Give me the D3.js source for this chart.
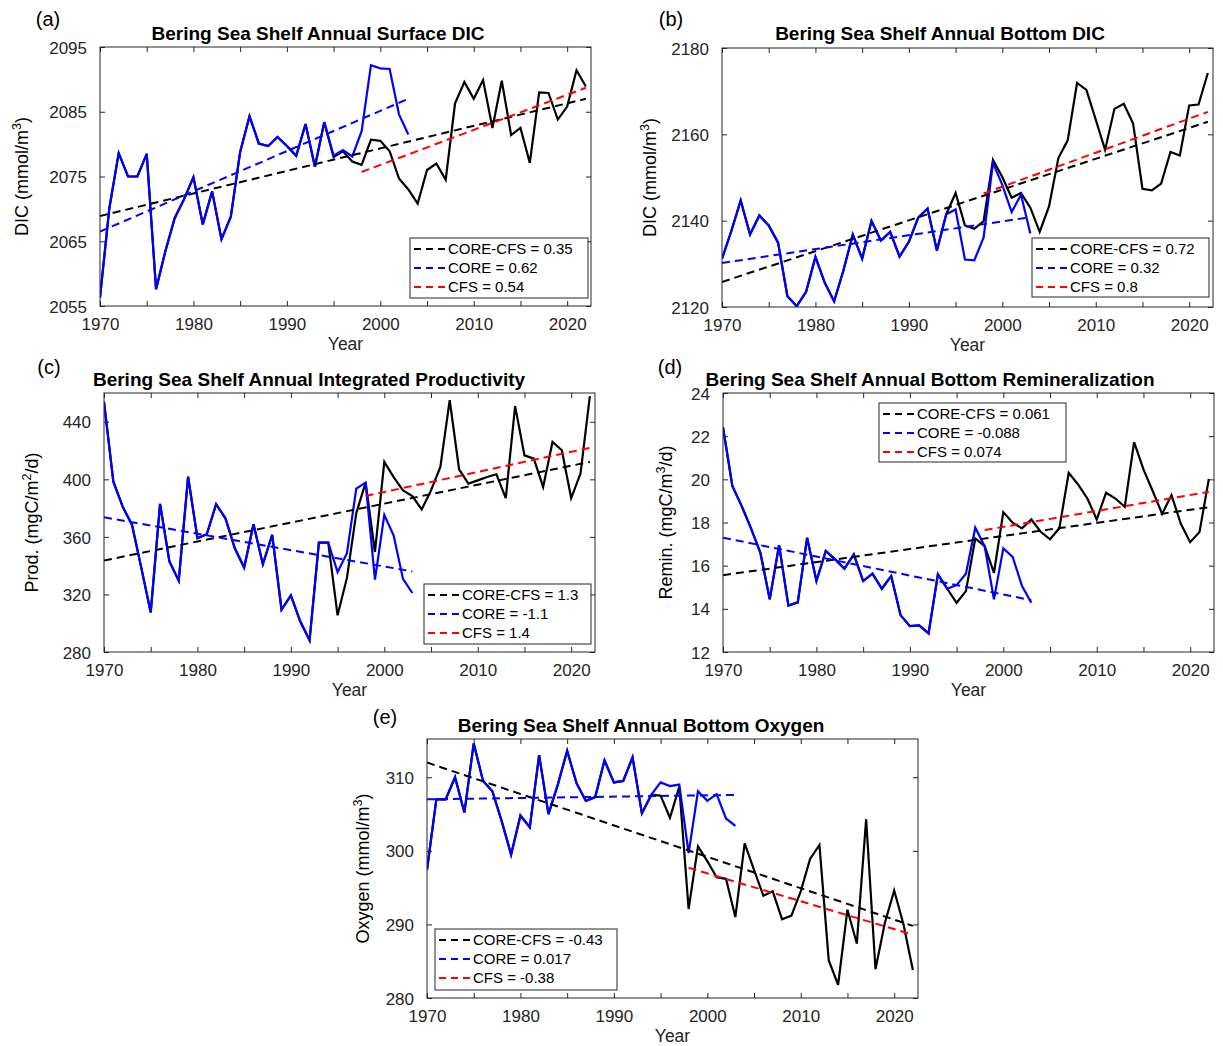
<!DOCTYPE html>
<html>
<head>
<meta charset="utf-8">
<script src="https://cdn.jsdelivr.net/npm/d3@7"></script>
<style>
  html, body { margin: 0; padding: 0; background: #fff; }
  svg { display: block; font-family: "Liberation Sans", Arial, Helvetica, sans-serif; }
</style>
</head>
<body>
<svg id="chart" width="1223" height="1046"></svg>
<script>
// ---------------- DATA ----------------
const coreYears = d3.range(1970, 2004);      // CORE: 1970-2003
const coreCfsYears = d3.range(1970, 2023);   // CORE-CFS: 1970-2022
const xTicks = [1970, 1975, 1980, 1985, 1990, 1995, 2000, 2005, 2010, 2015, 2020];
const xTickLabels = ["1970", "", "1980", "", "1990", "", "2000", "", "2010", "", "2020"];
const seriesNames = ["CORE-CFS", "CORE", "CFS"];

// (a) Surface DIC
const aCore = [2056.3, 2070.1, 2078.6, 2075.0, 2075.0, 2078.5, 2057.6, 2063.5, 2068.6, 2071.5,
  2074.9, 2067.6, 2072.7, 2065.3, 2068.8, 2078.8, 2084.3, 2080.1, 2079.7, 2081.1,
  2079.7, 2078.2, 2083.1, 2076.5, 2083.4, 2078.2, 2079.1, 2078.1, 2082.0, 2092.2,
  2091.7, 2091.6, 2084.6, 2081.5];
const aCoreCfs = [2056.3, 2070.1, 2078.6, 2075.0, 2075.0, 2078.5, 2057.6, 2063.5, 2068.6, 2071.5,
  2074.9, 2067.6, 2072.7, 2065.3, 2068.8, 2078.8, 2084.3, 2080.1, 2079.7, 2081.1,
  2079.7, 2078.2, 2083.1, 2076.5, 2083.4,
  2078.0, 2078.9, 2077.3, 2076.8, 2080.7, 2080.5, 2078.9, 2074.7, 2073.0, 2070.8,
  2076.0, 2077.0, 2074.5, 2086.3, 2089.6, 2087.0, 2089.9, 2082.5, 2089.8, 2081.4,
  2082.5, 2077.1, 2088.0, 2087.9, 2083.8, 2085.8, 2091.4, 2088.9];
const aTrendCoreCfs = [2068.9, 2087.0];   // 1970 -> 2022
const aTrendCore = [2066.5, 2087.0];      // 1970 -> 2003
const aTrendCfs = [2075.7, 2088.7];       // 1998 -> 2022
const aSlopes = ["0.35", "0.62", "0.54"];
const aYTicks = [2055, 2065, 2075, 2085, 2095];

// (b) Bottom DIC
const bCore = [2131.2, 2137.6, 2144.7, 2136.8, 2141.2, 2138.9, 2134.9, 2122.5, 2120.2, 2123.5,
  2131.6, 2125.6, 2121.3, 2128.5, 2136.8, 2131.2, 2139.9, 2135.4, 2137.4, 2131.7,
  2135.1, 2140.7, 2142.8, 2133.1, 2141.5, 2142.6, 2131.0, 2130.8, 2136.1, 2153.4,
  2148.3, 2142.0, 2146.0, 2137.0];
const bCoreCfs = [2131.2, 2137.6, 2144.7, 2136.8, 2141.2, 2138.9, 2134.9, 2122.5, 2120.2, 2123.5,
  2131.6, 2125.6, 2121.3, 2128.5, 2136.8, 2131.2, 2139.9, 2135.4, 2137.4, 2131.7,
  2135.1, 2140.7, 2142.8, 2133.1, 2141.5,
  2146.4, 2138.9, 2138.1, 2139.9, 2154.1, 2150.1, 2145.3, 2146.4, 2143.0, 2137.4,
  2143.3, 2154.5, 2158.6, 2171.9, 2170.3, 2163.4, 2156.4, 2165.9, 2167.1, 2162.5,
  2147.4, 2147.0, 2148.6, 2155.9, 2155.1, 2166.7, 2166.9, 2174.2];
const bTrendCoreCfs = [2125.8, 2162.9];
const bTrendCore = [2130.2, 2140.8];
const bTrendCfs = [2146.3, 2165.2];
const bSlopes = ["0.72", "0.32", "0.8"];
const bYTicks = [2120, 2140, 2160, 2180];

// (c) Integrated Productivity
const cCore = [453.9, 398.4, 381.0, 368.3, 338.3, 307.5, 382.9, 342.9, 329.5, 401.8,
  359.1, 361.8, 382.7, 372.9, 352.1, 338.7, 368.8, 341.0, 361.4, 309.4,
  319.3, 301.3, 288.1, 356.0, 356.0, 335.5, 348.6, 393.5, 397.7, 330.3,
  375.3, 360.9, 330.8, 321.0];
const cCoreCfs = [453.9, 398.4, 381.0, 368.3, 338.3, 307.5, 382.9, 342.9, 329.5, 401.8,
  359.1, 361.8, 382.7, 372.9, 352.1, 338.7, 368.8, 341.0, 361.4, 309.4,
  319.3, 301.3, 288.1, 356.0, 356.0,
  305.5, 331.5, 376.5, 397.7, 349.5, 412.1, 401.6, 392.3, 388.4, 379.1,
  392.3, 408.6, 455.1, 407.0, 397.0, 399.3, 401.6, 403.5, 387.0, 450.9,
  416.7, 414.4, 394.7, 426.0, 420.2, 387.0, 404.0, 457.9];
const cTrendCoreCfs = [343.6, 412.1];
const cTrendCore = [373.6, 336.0];
const cTrendCfs = [388.4, 421.9];
const cSlopes = ["1.3", "-1.1", "1.4"];
const cYTicks = [280, 320, 360, 400, 440];

// (d) Bottom Remineralization
const dCore = [22.42, 19.69, 18.76, 17.73, 16.60, 14.44, 16.95, 14.15, 14.30, 17.29,
  15.29, 16.68, 16.29, 15.86, 16.52, 15.29, 15.63, 14.93, 15.52, 13.71,
  13.20, 13.23, 12.86, 15.60, 14.93, 15.10, 15.63, 17.76, 16.91, 14.44,
  16.80, 16.41, 15.06, 14.28];
const dCoreCfs = [22.42, 19.69, 18.76, 17.73, 16.60, 14.44, 16.95, 14.15, 14.30, 17.29,
  15.29, 16.68, 16.29, 15.86, 16.52, 15.29, 15.63, 14.93, 15.52, 13.71,
  13.20, 13.23, 12.86, 15.60, 14.93,
  14.28, 14.82, 17.26, 16.91, 15.67, 18.48, 17.99, 17.73, 18.14, 17.57,
  17.22, 17.73, 20.30, 19.76, 19.11, 18.14, 19.38, 19.11, 18.73, 21.72,
  20.46, 19.45, 18.40, 19.27, 17.94, 17.09, 17.56, 20.02];
const dTrendCoreCfs = [15.56, 18.71];
const dTrendCore = [17.3, 14.4];
const dTrendCfs = [17.65, 19.42];
const dSlopes = ["0.061", "-0.088", "0.074"];
const dYTicks = [12, 14, 16, 18, 20, 22, 24];

// (e) Bottom Oxygen
const eCore = [297.4, 307.0, 307.0, 310.0, 305.2, 314.6, 309.5, 308.1, 304.0, 299.5,
  304.8, 303.2, 313.0, 305.0, 309.0, 313.6, 309.2, 306.8, 307.3, 312.3,
  309.3, 309.5, 312.7, 305.1, 307.6, 309.3, 308.8, 309.0, 299.7, 308.1,
  306.8, 307.7, 304.4, 303.4];
const eCoreCfs = [297.4, 307.0, 307.0, 310.0, 305.2, 314.6, 309.5, 308.1, 304.0, 299.5,
  304.8, 303.2, 313.0, 305.0, 309.0, 313.6, 309.2, 306.8, 307.3, 312.3,
  309.3, 309.5, 312.7, 305.1, 307.6,
  307.5, 304.5, 308.7, 292.1, 300.6, 298.6, 296.4, 296.2, 291.0, 301.0,
  297.4, 293.9, 294.5, 290.7, 291.2, 294.5, 298.9, 300.8, 285.1, 281.8,
  292.0, 287.4, 304.3, 283.9, 290.2, 294.6, 290.0, 283.8];
const eTrendCoreCfs = [312.0, 289.8];
const eTrendCore = [307.0, 307.6];
const eTrendCfs = [297.7, 288.6];
const eSlopes = ["-0.43", "0.017", "-0.38"];
const eYTicks = [280, 290, 300, 310];

// trend line year spans
const trendYearsCoreCfs = [1970, 2022];
const trendYearsCore = [1970, 2003];
const trendYearsCfs = [1998, 2022];

// ---------------- LAYOUT ----------------
const AX_W = 491, AX_H = 259;
const panels = [
  { tag: "(a)", title: "Bering Sea Shelf Annual Surface DIC", left: 100, top: 47, titleX: 318, titleY: 40, tagX: 48, tagY: 26,
    yDomain: [2055, 2095], yTicks: aYTicks, yLabel: ["DIC (mmol/m", "3", ")"], yLabelX: 22,
    core: aCore, coreCfs: aCoreCfs, tCC: aTrendCoreCfs, tC: aTrendCore, tF: aTrendCfs, slopes: aSlopes,
    leg: { x: 410, y: 238, w: 178, h: 60 } },
  { tag: "(b)", title: "Bering Sea Shelf Annual Bottom DIC", left: 722, top: 48, titleX: 940, titleY: 40, tagX: 671, tagY: 26,
    yDomain: [2120, 2180], yTicks: bYTicks, yLabel: ["DIC (mmol/m", "3", ")"], yLabelX: 650,
    core: bCore, coreCfs: bCoreCfs, tCC: bTrendCoreCfs, tC: bTrendCore, tF: bTrendCfs, slopes: bSlopes,
    leg: { x: 1032, y: 238, w: 177, h: 59 } },
  { tag: "(c)", title: "Bering Sea Shelf Annual Integrated Productivity", left: 104, top: 393, titleX: 309, titleY: 386, tagX: 49, tagY: 374,
    yDomain: [280, 460], yTicks: cYTicks, yLabel: ["Prod. (mgC/m", "2", "/d)"], yLabelX: 32,
    core: cCore, coreCfs: cCoreCfs, tCC: cTrendCoreCfs, tC: cTrendCore, tF: cTrendCfs, slopes: cSlopes,
    leg: { x: 424, y: 584, w: 167, h: 60 } },
  { tag: "(d)", title: "Bering Sea Shelf Annual Bottom Remineralization", left: 723, top: 393, titleX: 930, titleY: 386, tagX: 670, tagY: 374,
    yDomain: [12, 24], yTicks: dYTicks, yLabel: ["Remin. (mgC/m", "3", "/d)"], yLabelX: 666,
    core: dCore, coreCfs: dCoreCfs, tCC: dTrendCoreCfs, tC: dTrendCore, tF: dTrendCfs, slopes: dSlopes,
    leg: { x: 879, y: 403, w: 187, h: 59 } },
  { tag: "(e)", title: "Bering Sea Shelf Annual Bottom Oxygen", left: 427, top: 739, titleX: 641, titleY: 732, tagX: 385, tagY: 724,
    yDomain: [280, 315.2], yTicks: eYTicks, yLabel: ["Oxygen (mmol/m", "3", ")"], yLabelX: 363,
    core: eCore, coreCfs: eCoreCfs, tCC: eTrendCoreCfs, tC: eTrendCore, tF: eTrendCfs, slopes: eSlopes,
    leg: { x: 435, y: 929, w: 182, h: 61 } }
];

const AXIS_COLOR = "#262626";
const TICK_FONT = 17;
const svg = d3.select("#chart");

function drawPanel(p) {
  const g = svg.append("g").attr("transform", `translate(${p.left},${p.top})`);
  const x = d3.scaleLinear().domain([1970, 2022.55]).range([0, AX_W]);
  const y = d3.scaleLinear().domain(p.yDomain).range([AX_H, 0]);

  // clip
  const clipId = "clip" + p.tag.replace(/[()]/g, "");
  g.append("clipPath").attr("id", clipId).append("rect")
    .attr("x", 0).attr("y", 0).attr("width", AX_W).attr("height", AX_H);

  const plot = g.append("g").attr("clip-path", `url(#${clipId})`);
  const line = d3.line().x(d => x(d[0])).y(d => y(d[1]));

  // CORE-CFS (black)
  plot.append("path").datum(coreCfsYears.map((yr, i) => [yr, p.coreCfs[i]]))
    .attr("d", line).attr("fill", "none").attr("stroke", "#000").attr("stroke-width", 2.2)
    .attr("stroke-linejoin", "miter");
  // CORE (blue)
  plot.append("path").datum(coreYears.map((yr, i) => [yr, p.core[i]]))
    .attr("d", line).attr("fill", "none").attr("stroke", "#0000ff").attr("stroke-width", 2.2)
    .attr("stroke-linejoin", "miter");

  // trend lines
  const trends = [
    { yrs: trendYearsCoreCfs, v: p.tCC, c: "#000" },
    { yrs: trendYearsCore, v: p.tC, c: "#0000ff" },
    { yrs: trendYearsCfs, v: p.tF, c: "#ff0000" }
  ];
  trends.forEach(t => {
    plot.append("path").datum([[t.yrs[0], t.v[0]], [t.yrs[1], t.v[1]]])
      .attr("d", line).attr("fill", "none").attr("stroke", t.c).attr("stroke-width", 2)
      .attr("stroke-dasharray", "8,5");
  });

  // axes (box with inward ticks on all sides)
  const tickLen = 5;
  const ax = g.append("g").attr("stroke", AXIS_COLOR).attr("stroke-width", 1).attr("fill", "none");
  ax.append("rect").attr("x", 0).attr("y", 0).attr("width", AX_W).attr("height", AX_H);

  const xBottom = g.append("g").attr("transform", `translate(0,${AX_H})`)
    .call(d3.axisBottom(x).tickValues(xTicks).tickSizeInner(-tickLen).tickSizeOuter(0)
      .tickPadding(tickLen + 5).tickFormat((d, i) => xTickLabels[i]));
  const xTop = g.append("g")
    .call(d3.axisTop(x).tickValues(xTicks).tickSizeInner(-tickLen).tickSizeOuter(0).tickFormat(""));
  const yLeft = g.append("g")
    .call(d3.axisLeft(y).tickValues(p.yTicks).tickSizeInner(-tickLen).tickSizeOuter(0)
      .tickPadding(tickLen + 8).tickFormat(d3.format("d")));
  const yRight = g.append("g").attr("transform", `translate(${AX_W},0)`)
    .call(d3.axisRight(y).tickValues(p.yTicks).tickSizeInner(-tickLen).tickSizeOuter(0).tickFormat(""));

  [xBottom, xTop, yLeft, yRight].forEach(a => {
    a.select(".domain").remove();
    a.selectAll(".tick line").attr("stroke", AXIS_COLOR);
    a.selectAll(".tick text").attr("fill", AXIS_COLOR)
      .style("font-size", TICK_FONT + "px")
      .style("font-family", '"Liberation Sans", Arial, sans-serif');
  });
  xBottom.selectAll(".tick text").attr("dy", "0.85em");
  yLeft.selectAll(".tick text").attr("dy", "0.36em");

  // x label
  g.append("text").attr("x", AX_W / 2).attr("y", AX_H + 44)
    .attr("text-anchor", "middle").attr("fill", AXIS_COLOR)
    .style("font-size", "17.5px").text("Year");

  // y label
  const yl = svg.append("text")
    .attr("transform", `translate(${p.yLabelX},${p.top + AX_H / 2}) rotate(-90)`)
    .attr("text-anchor", "middle").attr("dy", "0.35em").attr("fill", "#000")
    .style("font-size", "18px");
  yl.append("tspan").text(p.yLabel[0]);
  yl.append("tspan").attr("dy", -7).style("font-size", "12.5px").text(p.yLabel[1]);
  yl.append("tspan").attr("dy", 7).text(p.yLabel[2]);

  // title
  svg.append("text").attr("x", p.titleX).attr("y", p.titleY)
    .attr("text-anchor", "middle").attr("fill", "#000")
    .style("font-size", "19px").style("font-weight", "bold").text(p.title);

  // panel tag
  svg.append("text").attr("x", p.tagX).attr("y", p.tagY)
    .attr("text-anchor", "middle").attr("fill", "#000")
    .style("font-size", "20px").text(p.tag);

  // legend
  const L = p.leg;
  const lg = svg.append("g").attr("transform", `translate(${L.x},${L.y})`);
  lg.append("rect").attr("width", L.w).attr("height", L.h)
    .attr("fill", "#fff").attr("stroke", AXIS_COLOR).attr("stroke-width", 1);
  const legColors = ["#000", "#0000ff", "#ff0000"];
  seriesNames.forEach((name, i) => {
    const cy = 11 + i * 19;
    lg.append("line").attr("x1", 4).attr("x2", 37).attr("y1", cy).attr("y2", cy)
      .attr("stroke", legColors[i]).attr("stroke-width", 2).attr("stroke-dasharray", "7,5");
    lg.append("text").attr("x", 38).attr("y", cy).attr("dy", "0.36em")
      .attr("fill", "#000").style("font-size", "15px")
      .text(`${name} = ${p.slopes[i]}`);
  });
}

panels.forEach(drawPanel);
</script>
</body>
</html>
